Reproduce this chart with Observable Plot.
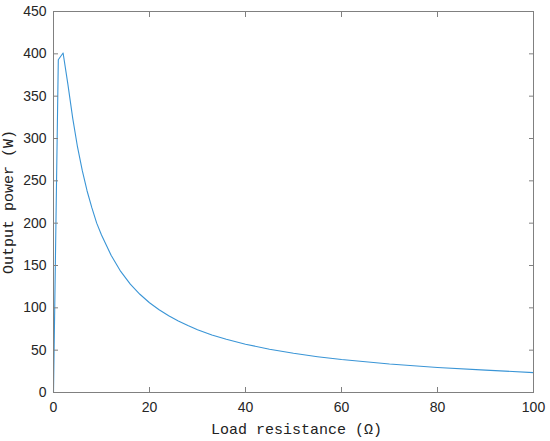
<!DOCTYPE html>
<html>
<head>
<meta charset="utf-8">
<script src="https://cdn.jsdelivr.net/npm/d3@7"></script>
<script src="https://cdn.jsdelivr.net/npm/@observablehq/plot@0.6"></script>
<style>
  html, body { margin: 0; padding: 0; background: #fff; }
  #chart svg { display: block; }
</style>
</head>
<body>
<div id="chart"></div>
<script>
// Load resistance (Ω) and output power (W)
const resistance = [0, 1, 2, 3, 4, 5, 6, 7, 8, 9, 10, 12, 14, 16, 18, 20, 22, 24, 26, 28, 30, 33, 36, 40, 45, 50, 55, 60, 70, 80, 90, 100];
const power      = [0, 393, 401, 364, 324, 290, 262, 238, 218, 200, 186, 162, 143, 128, 116, 106, 97.8, 90.6, 84.4, 79.0, 74.2, 68.0, 62.8, 57.0, 51.1, 46.3, 42.3, 38.9, 33.6, 29.6, 26.4, 23.5];
const xTicks = [0, 20, 40, 60, 80, 100];
const yTicks = [0, 50, 100, 150, 200, 250, 300, 350, 400, 450];
const xLabel = "Load resistance (Ω)";
const yLabel = "Output power (W)";

const data = resistance.map((r, i) => ({r, p: power[i]}));

const tickColor = "#262626";
const boxColor = "#808080";
const labelFont = "'Liberation Mono', 'DejaVu Sans Mono', monospace";

const chart = Plot.plot({
  width: 550,
  height: 441,
  marginLeft: 53,
  marginRight: 17,
  marginTop: 11,
  marginBottom: 49,
  style: {fontFamily: "'Liberation Sans', Arial, sans-serif", fontSize: "14px", color: tickColor, background: "#fff"},
  x: {domain: [0, 100]},
  y: {domain: [0, 450]},
  marks: [
    Plot.line(data, {x: "r", y: "p", stroke: "#3a95d6", strokeWidth: 1.1}),
    Plot.frame({stroke: boxColor, strokeWidth: 1}),
    // inward tick marks on all four sides
    Plot.axisX({ticks: xTicks, anchor: "bottom", tickSize: -5, text: null, label: null, stroke: boxColor}),
    Plot.axisX({ticks: xTicks, anchor: "top", tickSize: -5, text: null, label: null, stroke: boxColor}),
    Plot.axisY({ticks: yTicks, anchor: "left", tickSize: -5, text: null, label: null, stroke: boxColor}),
    Plot.axisY({ticks: yTicks, anchor: "right", tickSize: -5, text: null, label: null, stroke: boxColor}),
    // tick labels
    Plot.axisX({ticks: xTicks, anchor: "bottom", tickSize: 0, tickPadding: 10, label: null, fill: tickColor, fontSize: 14}),
    Plot.axisY({ticks: yTicks, anchor: "left", tickSize: 0, tickPadding: 7, label: null, fill: tickColor, fontSize: 14}),
    // axis titles
    Plot.text([xLabel], {frameAnchor: "bottom", dy: 37, dx: 3, textAnchor: "middle", lineAnchor: "middle", text: d => d, fontFamily: labelFont, fontSize: 15, fill: "#222"}),
    Plot.text([yLabel], {frameAnchor: "left", dx: -45, rotate: -90, textAnchor: "middle", lineAnchor: "middle", text: d => d, fontFamily: labelFont, fontSize: 15, fill: "#222"})
  ]
});
document.getElementById("chart").appendChild(chart);
</script>
</body>
</html>
